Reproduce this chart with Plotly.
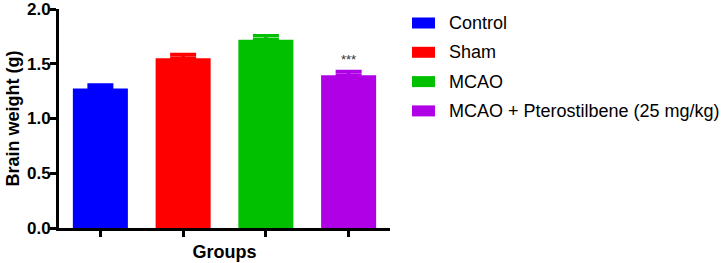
import plotly.graph_objects as go

groups = ["Control", "Sham", "MCAO", "MCAO + Pterostilbene (25 mg/kg)"]
values = [1.275, 1.55, 1.72, 1.395]
errors = [0.03, 0.035, 0.035, 0.035]
colors = ["#0000FF", "#FF0000", "#00C000", "#B000E6"]
significance = ["", "", "", "***"]

FONT = "Liberation Sans, Arial, sans-serif"

fig = go.Figure()
for g, v, e, c in zip(groups, values, errors, colors):
    fig.add_trace(go.Bar(
        x=[g], y=[v], name=g, width=0.665,
        marker=dict(color=c, line=dict(width=0)),
        error_y=dict(type="data", array=[e], arrayminus=[0], symmetric=False,
                     color=c, thickness=3.5, width=13),
        showlegend=False,
    ))

# significance marks
for g, v, e, s in zip(groups, values, errors, significance):
    if s:
        fig.add_annotation(x=g, y=v + e, text=s, showarrow=False, yanchor="bottom",
                           yshift=2, font=dict(family=FONT, size=13, color="#333333"))

# custom legend
plot_w = 331.0
plot_h = 219.0
def px2x(px):
    return (px - 59) / plot_w
def py2y(py):
    return (228 - py) / plot_h

row0 = 23.0
gap = 29.3
for i, (g, c) in enumerate(zip(groups, colors)):
    yc = row0 + i * gap
    fig.add_shape(type="rect", xref="paper", yref="paper",
                  x0=px2x(412), x1=px2x(435), y0=py2y(yc + 5.5), y1=py2y(yc - 5.5),
                  fillcolor=c, line=dict(width=0))
    fig.add_annotation(xref="paper", yref="paper", x=px2x(447), y=py2y(yc),
                       text=g, showarrow=False, xanchor="left", yanchor="middle",
                       font=dict(family=FONT, size=18, color="#000000"))

fig.update_layout(
    width=726, height=263,
    margin=dict(l=59, r=336, t=9, b=35),
    paper_bgcolor="white", plot_bgcolor="white",
    barmode="overlay",
    showlegend=False,
    font=dict(family=FONT, color="#000000"),
)
fig.update_xaxes(
    type="category", range=[-0.5, 3.5], showticklabels=False, automargin=False,
    ticks="outside", ticklen=6, tickwidth=2.5, tickcolor="#000000",
    showline=True, linewidth=3, linecolor="#000000", showgrid=False, zeroline=False,
    title=dict(text="<b>Groups</b>", font=dict(family=FONT, size=18), standoff=10),
)
fig.update_yaxes(
    range=[0, 2.0], dtick=0.5, tickformat=".1f", automargin=False,
    ticks="outside", ticklen=6, tickwidth=2.5, tickcolor="#000000",
    tickfont=dict(family=FONT, size=17, weight="bold", color="#000000"),
    ticklabeloverflow="allow", ticklabelstandoff=-4,
    showline=True, linewidth=3, linecolor="#000000", showgrid=False, zeroline=False,
    title=dict(text="<b>Brain weight (g)</b>", font=dict(family=FONT, size=18), standoff=3),
)

fig.write_html("out.html", config={"displayModeBar": False},
               post_script="document.body.style.margin='0';document.body.style.overflow='hidden';")
